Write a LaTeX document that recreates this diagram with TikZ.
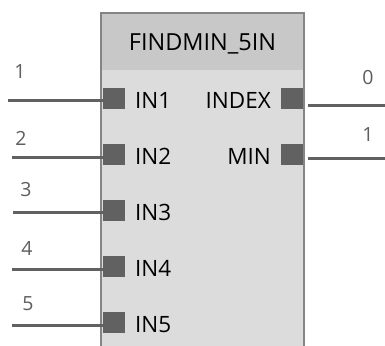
\documentclass[tikz,border=0pt]{standalone}
\usepackage{fontspec}
\setmainfont{Open Sans}
\definecolor{hdr}{HTML}{C8C8C8}
\definecolor{bodyc}{HTML}{DCDCDC}
\definecolor{edge}{HTML}{858585}
\definecolor{pinc}{HTML}{616161}
\definecolor{numc}{HTML}{5E5E5E}
\begin{document}
\begin{tikzpicture}[x=1pt,y=-1pt,
  pin/.style={draw=none,fill=pinc,minimum width=22pt,minimum height=21pt,inner sep=0pt,outer sep=0pt},
  wire/.style={draw=pinc,line width=3pt},
  pinlabel/.style={font=\fontsize{22.5}{24}\selectfont,inner sep=0pt,text=black},
  numlabel/.style={font=\fontsize{19.5}{21}\selectfont,inner sep=0pt,text=numc},
  title/.style={font=\fontsize{23.5}{25}\selectfont,inner sep=0pt,text=black}]
\useasboundingbox (0,0) rectangle (385,345);
\fill[white] (0,0) rectangle (385,345);
% block
\fill[bodyc] (101,13) rectangle (304,350);
\fill[hdr] (101,13) rectangle (304,70);
\draw[edge,line width=1.5pt] (101,350) -- (101,13) -- (304,13) -- (304,350);
\node[title] (ttl) at (202.5,44) {FINDMIN\_5IN};
% left pins
\foreach \i/\y/\lx/\nx/\ny in {1/98/8/20/72,2/154.5/12/21/138,3/210/13/26/190,4/266.5/12/27/248,5/322.5/12/28/304}{
  \node[pin,anchor=west] (p\i) at (103,\y) {};
  \coordinate (w\i) at (\lx,\y+2.5);
  \draw[wire] (w\i) -- (w\i -| p\i.west);
  \node[numlabel] (n\i) at (\nx,\ny) {\i};
  \node[pinlabel,anchor=west] (t\i) at (135,\y+2) {IN\i};
}
% right pins
\node[pin,anchor=east] (po1) at (303,98) {};
\node[pin,anchor=east] (po2) at (303,154.5) {};
\coordinate (wo1) at (385,105);
\coordinate (wo2) at (385,158);
\draw[wire] (po1.east |- wo1) ++(5,0) -- (wo1);
\draw[wire] (po2.east |- wo2) ++(5,0) -- (wo2);
\node[numlabel] (m1) at (368,78) {0};
\node[numlabel] (m2) at (368,135) {1};
\node[pinlabel,anchor=east] (r1) at (271,100) {INDEX};
\node[pinlabel,anchor=east] (r2) at (271,156.5) {MIN};
\end{tikzpicture}
\end{document}
